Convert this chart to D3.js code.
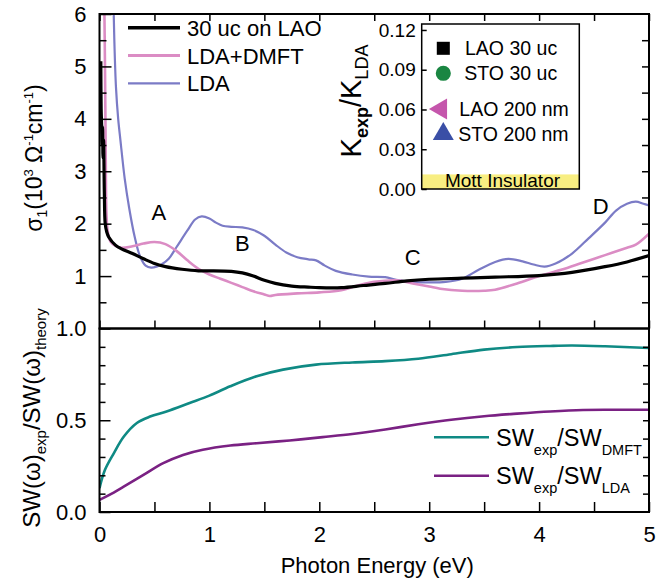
<!DOCTYPE html>
<html><head><meta charset="utf-8">
<script src="https://cdn.jsdelivr.net/npm/d3@7"></script>
<style>
html,body{margin:0;padding:0;background:#fff;}
svg{display:block;}
text{font-family:"Liberation Sans",Arial,sans-serif;fill:#000;}
</style></head>
<body><svg id="chart" width="669" height="582"></svg>
<script>
// ---------- DATA ----------
const seriesNames = ["30 uc on LAO", "LDA+DMFT", "LDA"];
// [photon energy (eV), sigma1 (10^3 Ohm^-1 cm^-1)]
const expLAO = [[0.012,5.1],[0.015,4.2],[0.019,3.9],[0.023,3.5],[0.028,3.85],[0.032,3.25],[0.037,3.6],[0.044,2.6],[0.052,2.0],[0.066,1.84],[0.085,1.74],[0.145,1.59],[0.2,1.52],[0.3,1.43],[0.4,1.33],[0.5,1.24],[0.6,1.18],[0.75,1.13],[0.9,1.1],[1.0,1.1],[1.2,1.09],[1.3,1.06],[1.4,1.0],[1.5,0.92],[1.6,0.86],[1.75,0.81],[1.9,0.79],[2.0,0.78],[2.2,0.78],[2.4,0.82],[2.6,0.86],[2.8,0.91],[3.0,0.94],[3.3,0.96],[3.6,0.98],[4.0,1.01],[4.3,1.07],[4.6,1.18],[4.8,1.27],[5.0,1.39]];
const ldaDmft = [[0.042,6.5],[0.05,5.0],[0.057,3.2],[0.063,2.2],[0.075,1.85],[0.1,1.66],[0.15,1.57],[0.2,1.54],[0.3,1.57],[0.4,1.62],[0.5,1.65],[0.6,1.61],[0.7,1.48],[0.8,1.3],[0.9,1.14],[1.0,1.03],[1.1,0.95],[1.2,0.87],[1.3,0.79],[1.4,0.71],[1.5,0.65],[1.55,0.62],[1.6,0.64],[1.8,0.67],[2.0,0.69],[2.2,0.73],[2.35,0.82],[2.5,0.89],[2.7,0.92],[2.85,0.86],[3.0,0.8],[3.1,0.76],[3.3,0.72],[3.5,0.72],[3.6,0.74],[3.8,0.86],[4.0,1.0],[4.2,1.12],[4.4,1.26],[4.6,1.4],[4.8,1.54],[4.88,1.6],[5.0,1.81]];
const lda = [[0.125,6.5],[0.135,5.5],[0.15,4.6],[0.17,4.0],[0.19,3.6],[0.23,2.85],[0.27,2.3],[0.32,1.75],[0.37,1.37],[0.42,1.2],[0.47,1.16],[0.52,1.18],[0.57,1.23],[0.63,1.33],[0.7,1.55],[0.8,1.87],[0.87,2.08],[0.93,2.14],[1.0,2.1],[1.06,2.02],[1.12,1.96],[1.2,1.94],[1.3,1.93],[1.4,1.88],[1.5,1.77],[1.6,1.6],[1.7,1.45],[1.8,1.36],[1.9,1.32],[1.97,1.3],[2.05,1.2],[2.15,1.1],[2.3,1.03],[2.45,0.99],[2.6,0.98],[2.7,0.93],[2.85,0.89],[3.0,0.88],[3.15,0.89],[3.3,0.95],[3.45,1.12],[3.6,1.27],[3.72,1.33],[3.85,1.28],[3.95,1.22],[4.05,1.18],[4.15,1.24],[4.3,1.43],[4.45,1.72],[4.6,2.02],[4.7,2.25],[4.8,2.38],[4.88,2.42],[4.95,2.38],[5.0,2.35]];
// [photon energy (eV), SW ratio]
const swDmft = [[0.0,0.13],[0.05,0.23],[0.13,0.32],[0.22,0.41],[0.34,0.485],[0.46,0.52],[0.61,0.548],[0.82,0.594],[1.0,0.634],[1.19,0.685],[1.43,0.74],[1.67,0.776],[1.97,0.803],[2.3,0.815],[2.6,0.822],[2.9,0.835],[3.2,0.86],[3.5,0.885],[3.8,0.899],[4.1,0.905],[4.3,0.907],[4.6,0.903],[5.0,0.894]];
const swLda = [[0.0,0.066],[0.09,0.093],[0.22,0.138],[0.4,0.202],[0.58,0.266],[0.76,0.311],[0.94,0.339],[1.19,0.362],[1.43,0.375],[1.73,0.39],[2.03,0.408],[2.3,0.425],[2.6,0.45],[2.9,0.478],[3.2,0.503],[3.5,0.522],[3.8,0.536],[4.1,0.548],[4.4,0.556],[4.7,0.557],[5.0,0.557]];
const swNames = ["DMFT", "LDA"];
const peakLabels = [["A",0.54,2.22],["B",1.3,1.63],["C",2.85,1.37],["D",4.56,2.33]];
const xTicks = [0,1,2,3,4,5];
const yTopTicks = [1,2,3,4,5,6];
const yBotTicks = [0.0,0.5,1.0];
const insetTicks = [0,0.03,0.06,0.09,0.12];
const insetSamples = ["LAO 30 uc","STO 30 uc","LAO 200 nm","STO 200 nm"];
const mottLevel = 0.011;

// ---------- SCALES ----------
const svg = d3.select("#chart");
const x = d3.scaleLinear().domain([0,5]).range([99.5,649]);
const yT = d3.scaleLinear().domain([0,6]).range([328.5,14]);
const yB = d3.scaleLinear().domain([0,1]).range([512,328.5]);

const defs = svg.append("defs");
defs.append("clipPath").attr("id","clipT").append("rect")
  .attr("x",x(0)).attr("y",yT(6)).attr("width",x(5)-x(0)).attr("height",yT(0)-yT(6));
defs.append("clipPath").attr("id","clipB").append("rect")
  .attr("x",x(0)).attr("y",yB(1)).attr("width",x(5)-x(0)).attr("height",yB(0)-yB(1));

const lineT = d3.line().x(d=>x(d[0])).y(d=>yT(d[1])).curve(d3.curveCatmullRom.alpha(0.5));
const lineB = d3.line().x(d=>x(d[0])).y(d=>yB(d[1])).curve(d3.curveCatmullRom.alpha(0.5));

// ---------- TOP PANEL CURVES ----------
const gT = svg.append("g").attr("clip-path","url(#clipT)");
gT.append("path").datum(lda).attr("d",lineT).attr("fill","none").attr("stroke","#7b7bc6").attr("stroke-width",2.2);
gT.append("path").datum(ldaDmft).attr("d",lineT).attr("fill","none").attr("stroke","#db8cc4").attr("stroke-width",2.6);
gT.append("path").datum(expLAO).attr("d",lineT).attr("fill","none").attr("stroke","#000").attr("stroke-width",3.2);

// ---------- BOTTOM PANEL CURVES ----------
const gB = svg.append("g").attr("clip-path","url(#clipB)");
gB.append("path").datum(swDmft).attr("d",lineB).attr("fill","none").attr("stroke","#0f8a84").attr("stroke-width",2.6);
gB.append("path").datum(swLda).attr("d",lineB).attr("fill","none").attr("stroke","#7a2183").attr("stroke-width",2.6);

// ---------- AXES ----------
function styleAxis(g){ g.select(".domain").remove(); g.selectAll("line").attr("stroke","#000").attr("stroke-width",1.5); }
const halfTicks = d3.range(0,5.01,0.5);
// top panel
svg.append("g").attr("transform",`translate(0,${yT(0)})`).call(d3.axisBottom(x).tickValues(halfTicks).tickSize(-8).tickFormat("")).call(styleAxis);
svg.append("g").attr("transform",`translate(0,${yT(6)})`).call(d3.axisTop(x).tickValues(halfTicks).tickSize(-7).tickFormat("")).call(styleAxis);
svg.append("g").attr("transform",`translate(${x(0)},0)`).call(d3.axisLeft(yT).tickValues(d3.range(0.5,6,1)).tickSize(-7).tickFormat("")).call(styleAxis);
svg.append("g").attr("transform",`translate(${x(0)},0)`).call(d3.axisLeft(yT).tickValues(yTopTicks).tickSize(-12).tickPadding(13).tickFormat(d3.format("d")))
  .call(styleAxis).call(g=>g.selectAll("text").attr("font-size",22).attr("fill","#000"));
svg.append("g").attr("transform",`translate(${x(5)},0)`).call(d3.axisRight(yT).tickValues(d3.range(0.5,6,0.5)).tickSize(-7).tickFormat("")).call(styleAxis);
// bottom panel
svg.append("g").attr("transform",`translate(0,${yB(0)})`).call(d3.axisBottom(x).tickValues(halfTicks).tickSize(-10).tickFormat("")).call(styleAxis);
svg.append("g").attr("transform",`translate(0,${yB(0)})`).call(d3.axisBottom(x).tickValues(xTicks).tickSize(0).tickPadding(14).tickFormat(d3.format("d")))
  .call(styleAxis).call(g=>g.selectAll("text").attr("font-size",22).attr("fill","#000"));
svg.append("g").attr("transform",`translate(${x(0)},0)`).call(d3.axisLeft(yB).tickValues(d3.range(0.1,1,0.1).filter(v=>Math.abs(v-0.5)>0.01)).tickSize(-6).tickFormat("")).call(styleAxis);
svg.append("g").attr("transform",`translate(${x(0)},0)`).call(d3.axisLeft(yB).tickValues(yBotTicks).tickSize(-11).tickPadding(13).tickFormat(d3.format(".1f")))
  .call(styleAxis).call(g=>g.selectAll("text").attr("font-size",22).attr("fill","#000"));
svg.append("g").attr("transform",`translate(${x(5)},0)`).call(d3.axisRight(yB).tickValues(d3.range(0.1,1,0.1)).tickSize(-6).tickFormat("")).call(styleAxis);

// frames
svg.append("rect").attr("x",x(0)).attr("y",yT(6)).attr("width",x(5)-x(0)).attr("height",yT(0)-yT(6)).attr("fill","none").attr("stroke","#000").attr("stroke-width",2);
svg.append("rect").attr("x",x(0)).attr("y",yB(1)).attr("width",x(5)-x(0)).attr("height",yB(0)-yB(1)).attr("fill","none").attr("stroke","#000").attr("stroke-width",2);

// axis titles
svg.append("text").attr("x",(x(0)+x(5))/2+3).attr("y",573).attr("text-anchor","middle").attr("font-size",22).text("Photon Energy (eV)");
const tY = svg.append("text").attr("transform","translate(42,158) rotate(-90)").attr("text-anchor","middle").attr("font-size",23);
tY.append("tspan").text("σ");
tY.append("tspan").attr("font-size",14).attr("dy",5).text("1");
tY.append("tspan").attr("dy",-5).text("(10");
tY.append("tspan").attr("font-size",13).attr("dy",-9).text("3");
tY.append("tspan").attr("dy",9).text(" Ω");
tY.append("tspan").attr("font-size",13).attr("dy",-9).text("-1");
tY.append("tspan").attr("dy",9).text("cm");
tY.append("tspan").attr("font-size",13).attr("dy",-9).text("-1");
tY.append("tspan").attr("dy",9).text(")");
const bY = svg.append("text").attr("transform","translate(40,418) rotate(-90)").attr("text-anchor","middle").attr("font-size",24);
bY.append("tspan").text("SW(ω)");
bY.append("tspan").attr("font-size",15).attr("dy",6).text("exp");
bY.append("tspan").attr("dy",-6).text("/SW(ω)");
bY.append("tspan").attr("font-size",15).attr("dy",6).text("theory");

// peak labels
svg.selectAll("text.peak").data(peakLabels).join("text").attr("class","peak")
  .attr("x",d=>x(d[1])).attr("y",d=>yT(d[2])+8).attr("text-anchor","middle").attr("font-size",22).text(d=>d[0]);

// main legend
const legColors = ["#000","#db8cc4","#7b7bc6"], legWidths=[3.5,3,2.2];
seriesNames.forEach((n,i)=>{
  const yy = 27.7 + i*27.8;
  svg.append("line").attr("x1",128).attr("x2",180).attr("y1",yy).attr("y2",yy).attr("stroke",legColors[i]).attr("stroke-width",legWidths[i]);
  svg.append("text").attr("x",187).attr("y",yy+8).attr("font-size",22).text(n);
});

// bottom legend
const swColors = ["#0f8a84","#7a2183"];
swNames.forEach((n,i)=>{
  const yy = 437.3 + i*38.4;
  svg.append("line").attr("x1",434).attr("x2",489).attr("y1",yy).attr("y2",yy).attr("stroke",swColors[i]).attr("stroke-width",2.6);
  const t = svg.append("text").attr("x",496).attr("y",yy+8.5).attr("font-size",23.5);
  t.append("tspan").text("SW");
  t.append("tspan").attr("font-size",14.5).attr("dy",9).text("exp");
  t.append("tspan").attr("dy",-9).text("/SW");
  t.append("tspan").attr("font-size",14.5).attr("dy",9).text(n);
});

// ---------- INSET ----------
const xi = d3.scaleLinear().domain([0,1]).range([421.7,579.3]);
const yi = d3.scaleLinear().domain([0,0.1245]).range([189,24]);
svg.append("rect").attr("x",xi(0)).attr("y",yi(0.1245)).attr("width",xi(1)-xi(0)).attr("height",yi(0)-yi(0.1245)).attr("fill","#fff");
svg.append("rect").attr("x",xi(0)).attr("y",yi(mottLevel)).attr("width",xi(1)-xi(0)).attr("height",yi(0)-yi(mottLevel)).attr("fill","#f8ee82");
svg.append("text").attr("x",(xi(0)+xi(1))/2+2).attr("y",187).attr("text-anchor","middle").attr("font-size",19).text("Mott Insulator");
svg.append("g").attr("transform",`translate(${xi(0)},0)`).call(d3.axisLeft(yi).tickValues(insetTicks).tickSize(-5).tickPadding(6).tickFormat(d3.format(".2f")))
  .call(styleAxis).call(g=>g.selectAll("text").attr("font-size",19).attr("fill","#000"));
svg.append("rect").attr("x",xi(0)).attr("y",yi(0.1245)).attr("width",xi(1)-xi(0)).attr("height",yi(0)-yi(0.1245)).attr("fill","none").attr("stroke","#000").attr("stroke-width",1.5);
const kY = svg.append("text").attr("transform","translate(361,101) rotate(-90)").attr("text-anchor","middle").attr("font-size",29);
kY.append("tspan").text("K");
kY.append("tspan").attr("font-size",18).attr("font-weight","bold").attr("dy",7).text("exp");
kY.append("tspan").attr("dy",-7).text("/K");
kY.append("tspan").attr("font-size",18).attr("dy",7).text("LDA");

const symTypes = [d3.symbolSquare, d3.symbolCircle, d3.symbolTriangle, d3.symbolTriangle];
const symSizes = [170, 180, 190, 190];
const symRot = [0,0,-90,0];
const symColors = ["#000","#1a8642","#c556ac","#3a4fa6"];
const symX = [443.3,443.3,441,443.3], symY=[48.3,73.3,109,134];
const txtX = [465,464.3,459.3,458.3];
insetSamples.forEach((s,i)=>{
  svg.append("path").attr("d",d3.symbol().type(symTypes[i]).size(symSizes[i])())
    .attr("transform",`translate(${symX[i]},${symY[i]}) rotate(${symRot[i]})`).attr("fill",symColors[i]);
  svg.append("text").attr("x",txtX[i]).attr("y",symY[i]+7).attr("font-size",19.5).text(s);
});
</script></body></html>
